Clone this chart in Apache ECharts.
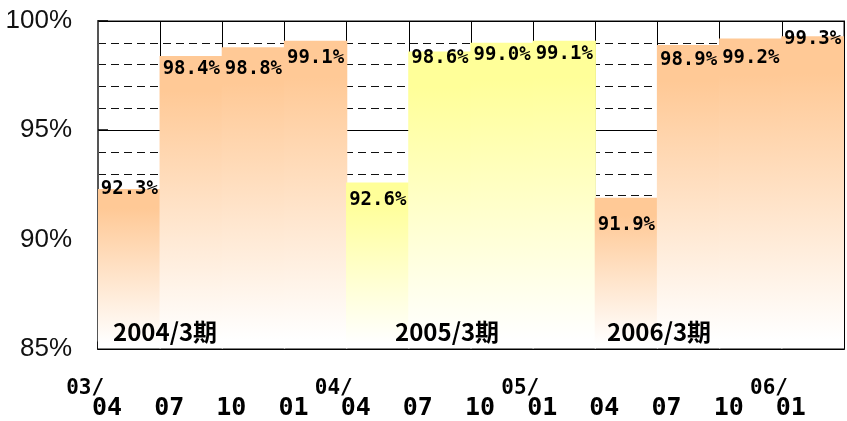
<!DOCTYPE html>
<html>
<head>
<meta charset="utf-8">
<script src="https://cdn.jsdelivr.net/npm/echarts@6/dist/echarts.min.js"></script>
<style>
  html, body { margin: 0; padding: 0; background: #ffffff; }
  #chart { width: 847px; height: 421px; }
</style>
</head>
<body>
<div id="chart"></div>
<script>
// Quarter-end occupancy rate (%) by month, grouped by fiscal year
const periods = ['2003-04', '2003-07', '2003-10', '2004-01',
                 '2004-04', '2004-07', '2004-10', '2005-01',
                 '2005-04', '2005-07', '2005-10', '2006-01'];
const monthLabels = ['04', '07', '10', '01', '04', '07', '10', '01', '04', '07', '10', '01'];
const yearMarks = ['03/', '', '', '', '04/', '', '', '05/', '', '', '', '06/'];
const occupancy = [92.3, 98.4, 98.8, 99.1, 92.6, 98.6, 99.0, 99.1, 91.9, 98.9, 99.2, 99.3];
const fiscalYearOf = [0, 0, 0, 0, 1, 1, 1, 1, 2, 2, 2, 2];
const fiscalYearNames = ['2004/3期', '2005/3期', '2006/3期'];
const yTicks = [85, 90, 95, 100];

// vertical nudges (px) for the value labels, relative to the bar top
const labelNudge = [-16, -2, 6, 2, 2, -9, -3, -2, 12, 0, 4, -13];

function fade(top) {
  return {
    type: 'linear', x: 0, y: 0, x2: 0, y2: 1,
    colorStops: [
      { offset: 0, color: top },
      { offset: 0.12, color: top },
      { offset: 0.97, color: '#ffffff' },
      { offset: 1, color: '#ffffff' }
    ]
  };
}
const fyColors = [fade('#ffc996'), fade('#ffff99'), fade('#ffc996')];

const chart = echarts.init(document.getElementById('chart'), null, { renderer: 'canvas' });

const option = {
  backgroundColor: '#ffffff',
  animation: false,
  grid: {
    left: 98, right: 3, top: 21, bottom: 72,
    show: true, borderColor: '#888888', borderWidth: 2
  },
  xAxis: {
    type: 'category',
    data: periods,
    boundaryGap: true,
    axisLine: { lineStyle: { color: '#000000', width: 2 } },
    axisTick: { show: true, inside: true, length: 7, interval: 0, lineStyle: { color: '#000000', width: 1.5 } },
    splitLine: { show: true, interval: 0, lineStyle: { color: '#000000', width: 1 } },
    axisLabel: {
      interval: 0,
      align: 'right',
      margin: 31,
      formatter: function (v, i) {
        const y = yearMarks[i] ? '{y|' + yearMarks[i] + '}' : '{y| }';
        return y + '\n{m|' + monthLabels[i] + '}';
      },
      rich: {
        y: { fontFamily: 'DejaVu Sans Mono', fontWeight: 'bold', fontSize: 21, color: '#000', lineHeight: 18, padding: [0, 25, 0, 0] },
        m: { fontFamily: 'DejaVu Sans Mono', fontWeight: 'bold', fontSize: 25, color: '#000', lineHeight: 22, padding: [0, 7, 0, 0] }
      }
    }
  },
  yAxis: {
    type: 'value',
    min: yTicks[0],
    max: yTicks[yTicks.length - 1],
    interval: 5,
    axisLine: { show: true, lineStyle: { color: '#555555', width: 2 } },
    axisTick: { show: true, inside: true, length: 10, lineStyle: { color: '#000000', width: 1.5 } },
    axisLabel: {
      margin: 26,
      formatter: '{value}%',
      fontFamily: 'Liberation Sans',
      fontSize: 26,
      color: '#111111'
    },
    splitLine: { show: true, lineStyle: { color: '#000000', width: 1 } },
    minorTick: { show: false, splitNumber: 5 },
    minorSplitLine: { show: true, lineStyle: { color: '#111111', width: 1, type: [8, 5] } }
  },
  series: [{
    type: 'bar',
    // slightly wider than the band so neighbouring bars overlap and leave no seam
    barWidth: '102%',
    data: occupancy.map(function (v, i) {
      return {
        value: v,
        itemStyle: { color: fyColors[fiscalYearOf[i]] },
        label: { offset: [0, labelNudge[i]] }
      };
    }),
    label: {
      show: true,
      position: 'insideTop',
      distance: 6,
      formatter: function (p) { return p.value.toFixed(1) + '%'; },
      fontFamily: 'DejaVu Sans Mono',
      fontWeight: 'bold',
      fontSize: 19,
      color: '#000000'
    },
    z: 3
  }]
};
chart.setOption(option);

// Fiscal-year captions along the bottom of the plot
const captionX = [113, 395, 607];
chart.setOption({
  graphic: fiscalYearNames.map(function (name, k) {
    return {
      type: 'text',
      left: captionX[k],
      top: 320,
      z: 100,
      style: {
        text: name,
        font: 'bold 24px "Noto Sans CJK JP"',
        fill: '#000000'
      }
    };
  })
});
</script>
</body>
</html>
